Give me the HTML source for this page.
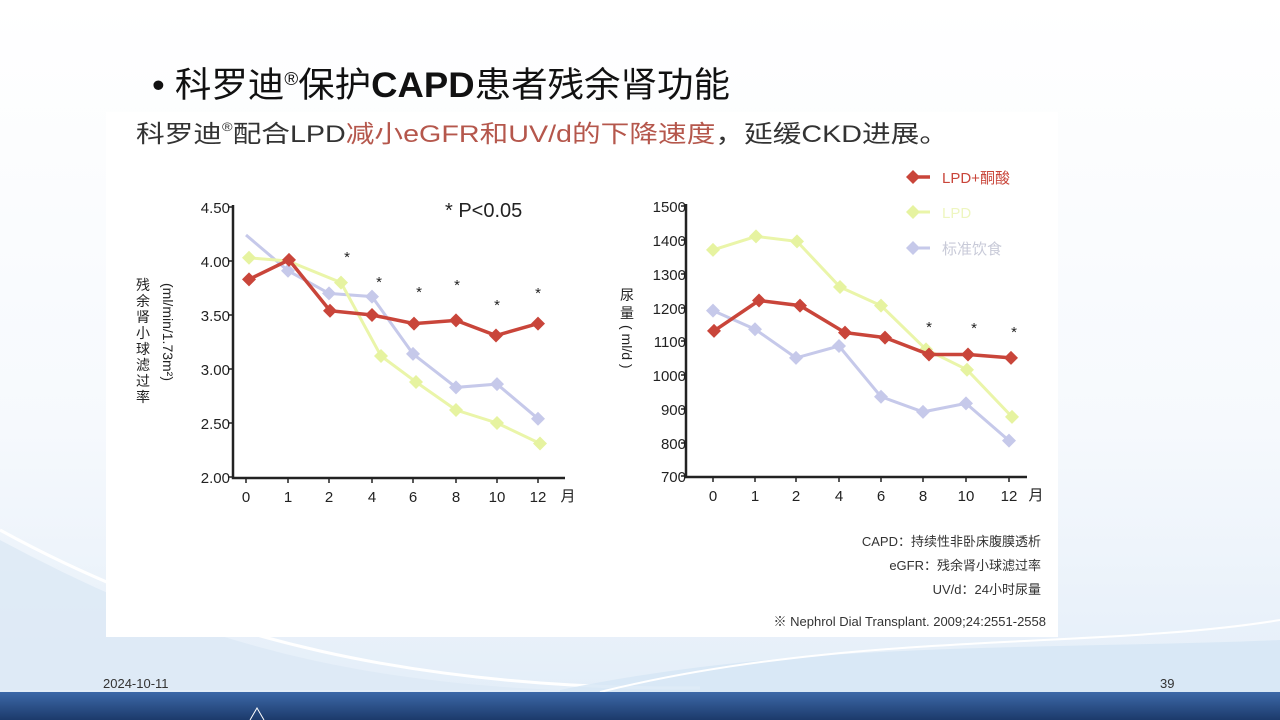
<!DOCTYPE html>
<html><head><meta charset="utf-8"><style>
html,body{margin:0;padding:0;width:1280px;height:720px;overflow:hidden;background:#fff}
svg{display:block}
text{font-family:"Liberation Sans","Noto Sans CJK SC",sans-serif}
</style></head><body>
<svg width="1280" height="720" viewBox="0 0 1280 720" xmlns="http://www.w3.org/2000/svg">
<defs>
<linearGradient id="bg" x1="0" y1="0" x2="0" y2="1">
<stop offset="0" stop-color="#ffffff"/><stop offset="0.6" stop-color="#f6f9fd"/><stop offset="1" stop-color="#e2edf8"/>
</linearGradient>
<linearGradient id="band" x1="0" y1="0" x2="0" y2="1">
<stop offset="0" stop-color="#3d69a8"/><stop offset="1" stop-color="#1c3a6b"/>
</linearGradient>
<path id="d" d="M0,-7 L7,0 L0,7 L-7,0Z"/>
</defs>
<rect width="1280" height="720" fill="url(#bg)"/>
<path d="M0,540 C150,620 300,680 560,690 L0,690Z" fill="#dce8f5" opacity="0.8"/>
<path d="M0,530 C200,640 420,690 700,688" stroke="#fff" stroke-width="3" fill="none"/>
<path d="M560,690 C800,640 1050,650 1280,640 L1280,692 L560,692Z" fill="#d6e6f5" opacity="0.8"/>
<path d="M600,692 C850,630 1100,650 1280,620" stroke="#fff" stroke-width="2" fill="none"/>
<rect x="0" y="692" width="1280" height="28" fill="url(#band)"/>
<path d="M250,720 L257,708 L264,720" stroke="#fff" fill="none"/>
<text x="103" y="688" font-size="13" fill="#333">2024-10-11</text>
<text x="1160" y="688" font-size="13" fill="#333">39</text>

<text x="152" y="97" font-size="35" fill="#111" textLength="578" lengthAdjust="spacingAndGlyphs">• 科罗迪<tspan font-size="18" dy="-12">®</tspan><tspan dy="12">保护</tspan><tspan font-weight="bold">CAPD</tspan>患者残余肾功能</text>

<rect x="106" y="112" width="952" height="525" fill="#fff"/>
<text x="136" y="142" font-size="24" fill="#333" textLength="812" lengthAdjust="spacingAndGlyphs">科罗迪<tspan font-size="12" dy="-11">®</tspan><tspan dy="11">配合LPD</tspan><tspan fill="#b5574c">减小eGFR和UV/d的下降速度</tspan>，延缓CKD进展。</text>

<!-- LEFT CHART -->
<g stroke="#222" stroke-width="2.5" fill="none">
<path d="M233,205 L233,478 L565,478"/>
</g>
<g stroke="#222" stroke-width="1.5">
<path d="M228,207H233M228,261H233M228,315H233M228,369H233M228,423H233M228,477H233"/>
<path d="M246,478v5M288,478v5M329,478v5M372,478v5M413,478v5M456,478v5M497,478v5M538,478v5"/>
</g>
<g font-size="15" fill="#222" text-anchor="end">
<text x="230" y="213">4.50</text><text x="230" y="267">4.00</text><text x="230" y="321">3.50</text>
<text x="230" y="375">3.00</text><text x="230" y="429">2.50</text><text x="230" y="483">2.00</text>
</g>
<g font-size="15" fill="#222" text-anchor="middle">
<text x="246" y="502">0</text><text x="288" y="502">1</text><text x="329" y="502">2</text><text x="372" y="502">4</text>
<text x="413" y="502">6</text><text x="456" y="502">8</text><text x="497" y="502">10</text><text x="538" y="502">12</text>
<text x="568" y="501">月</text>
</g>
<text x="445" y="217" font-size="20" fill="#222">* P&lt;0.05</text>
<g font-size="15" fill="#222" text-anchor="middle">
<text x="347" y="262">*</text><text x="379" y="287">*</text><text x="419" y="297">*</text>
<text x="457" y="290">*</text><text x="497" y="310">*</text><text x="538" y="298">*</text>
</g>
<g font-size="14" fill="#222" text-anchor="middle">
<text x="143" y="290">残</text><text x="143" y="306">余</text><text x="143" y="322">肾</text><text x="143" y="338">小</text>
<text x="143" y="354">球</text><text x="143" y="370">滤</text><text x="143" y="386">过</text><text x="143" y="402">率</text>
</g>
<text transform="translate(163,283) rotate(90)" font-size="14" fill="#222">(ml/min/1.73m²)</text>

<polyline points="246,235 288,270.7 329,293.4 372,296.6 413,353.9 456,387.4 497,384.1 538,418.7" fill="none" stroke="#c6c9ea" stroke-width="3"/>
<g fill="#c6c9ea"><use href="#d" x="288" y="270.7"/><use href="#d" x="329" y="293.4"/><use href="#d" x="372" y="296.6"/><use href="#d" x="413" y="353.9"/><use href="#d" x="456" y="387.4"/><use href="#d" x="497" y="384.1"/><use href="#d" x="538" y="418.7"/></g>
<polyline points="249,257.8 288,261 341,282.6 381,356 416,382 456,410 497,423 540,443.5" fill="none" stroke="#eaf5a9" stroke-width="3"/>
<g fill="#e6f3a0"><use href="#d" x="249" y="257.8"/><use href="#d" x="341" y="282.6"/><use href="#d" x="381" y="356"/><use href="#d" x="416" y="382"/><use href="#d" x="456" y="410"/><use href="#d" x="497" y="423"/><use href="#d" x="540" y="443.5"/></g>
<polyline points="249,279.4 289,259.9 330,310.7 372,315 414,323.6 456,320.4 496,335.5 538,323.6" fill="none" stroke="#c9453a" stroke-width="3.5"/>
<g fill="#c9453a"><use href="#d" x="249" y="279.4"/><use href="#d" x="289" y="259.9"/><use href="#d" x="330" y="310.7"/><use href="#d" x="372" y="315"/><use href="#d" x="414" y="323.6"/><use href="#d" x="456" y="320.4"/><use href="#d" x="496" y="335.5"/><use href="#d" x="538" y="323.6"/></g>

<!-- RIGHT CHART -->
<g stroke="#222" stroke-width="2.5" fill="none"><path d="M686,204 L686,477 L1027,477"/></g>
<g stroke="#222" stroke-width="1.5">
<path d="M681,206H686M681,240H686M681,274H686M681,308H686M681,341H686M681,375H686M681,409H686M681,443H686M681,476H686"/>
<path d="M713,477v5M755,477v5M796,477v5M839,477v5M881,477v5M923,477v5M966,477v5M1009,477v5"/>
</g>
<g font-size="15" fill="#222" text-anchor="end">
<text x="686" y="212">1500</text><text x="686" y="246">1400</text><text x="686" y="280">1300</text>
<text x="686" y="314">1200</text><text x="686" y="347">1100</text><text x="686" y="381">1000</text>
<text x="686" y="415">900</text><text x="686" y="449">800</text><text x="686" y="482">700</text>
</g>
<g font-size="15" fill="#222" text-anchor="middle">
<text x="713" y="501">0</text><text x="755" y="501">1</text><text x="796" y="501">2</text><text x="839" y="501">4</text>
<text x="881" y="501">6</text><text x="923" y="501">8</text><text x="966" y="501">10</text><text x="1009" y="501">12</text>
<text x="1036" y="500">月</text>
</g>
<g font-size="14" fill="#222" text-anchor="middle"><text x="627" y="300">尿</text><text x="627" y="318">量</text></g>
<text transform="translate(622,325) rotate(90)" font-size="14" fill="#222">( ml/d )</text>
<g font-size="15" fill="#222" text-anchor="middle"><text x="929" y="332">*</text><text x="974" y="333">*</text><text x="1014" y="337">*</text></g>

<polyline points="713,310.6 755,329.2 796,357.9 839,346 881,396.7 923,411.9 966,403.4 1009,440.6" fill="none" stroke="#c6c9ea" stroke-width="3"/>
<g fill="#c6c9ea"><use href="#d" x="713" y="310.6"/><use href="#d" x="755" y="329.2"/><use href="#d" x="796" y="357.9"/><use href="#d" x="839" y="346"/><use href="#d" x="881" y="396.7"/><use href="#d" x="923" y="411.9"/><use href="#d" x="966" y="403.4"/><use href="#d" x="1009" y="440.6"/></g>
<polyline points="713,249.9 756,236.4 797,241.4 840,287 881,305.6 926,349.4 967,369.7 1012,416.9" fill="none" stroke="#eaf5a9" stroke-width="3"/>
<g fill="#e6f3a0"><use href="#d" x="713" y="249.9"/><use href="#d" x="756" y="236.4"/><use href="#d" x="797" y="241.4"/><use href="#d" x="840" y="287"/><use href="#d" x="881" y="305.6"/><use href="#d" x="926" y="349.4"/><use href="#d" x="967" y="369.7"/><use href="#d" x="1012" y="416.9"/></g>
<polyline points="714,330.9 759,300.5 800,305.6 845,332.6 885,337.6 929,354.5 968,354.5 1011,357.9" fill="none" stroke="#c9453a" stroke-width="3.5"/>
<g fill="#c9453a"><use href="#d" x="714" y="330.9"/><use href="#d" x="759" y="300.5"/><use href="#d" x="800" y="305.6"/><use href="#d" x="845" y="332.6"/><use href="#d" x="885" y="337.6"/><use href="#d" x="929" y="354.5"/><use href="#d" x="968" y="354.5"/><use href="#d" x="1011" y="357.9"/></g>

<!-- legend -->
<path d="M913,177H930" stroke="#c9453a" stroke-width="3.5"/><use href="#d" x="913" y="177" fill="#c9453a"/>
<text x="942" y="183" font-size="15" fill="#c9453a">LPD+酮酸</text>
<path d="M913,212H930" stroke="#eaf5a9" stroke-width="3"/><use href="#d" x="913" y="212" fill="#e6f3a0"/>
<text x="942" y="218" font-size="15" fill="#eef6c0">LPD</text>
<path d="M913,248H930" stroke="#c6c9ea" stroke-width="3"/><use href="#d" x="913" y="248" fill="#c6c9ea"/>
<text x="942" y="254" font-size="15" fill="#c8cad8">标准饮食</text>

<g font-size="13" fill="#333" text-anchor="end">
<text x="1041" y="546">CAPD：持续性非卧床腹膜透析</text>
<text x="1041" y="570">eGFR：残余肾小球滤过率</text>
<text x="1041" y="594">UV/d：24小时尿量</text>
<text x="1046" y="626">※ Nephrol Dial Transplant. 2009;24:2551-2558</text>
</g>
</svg>
</body></html>
